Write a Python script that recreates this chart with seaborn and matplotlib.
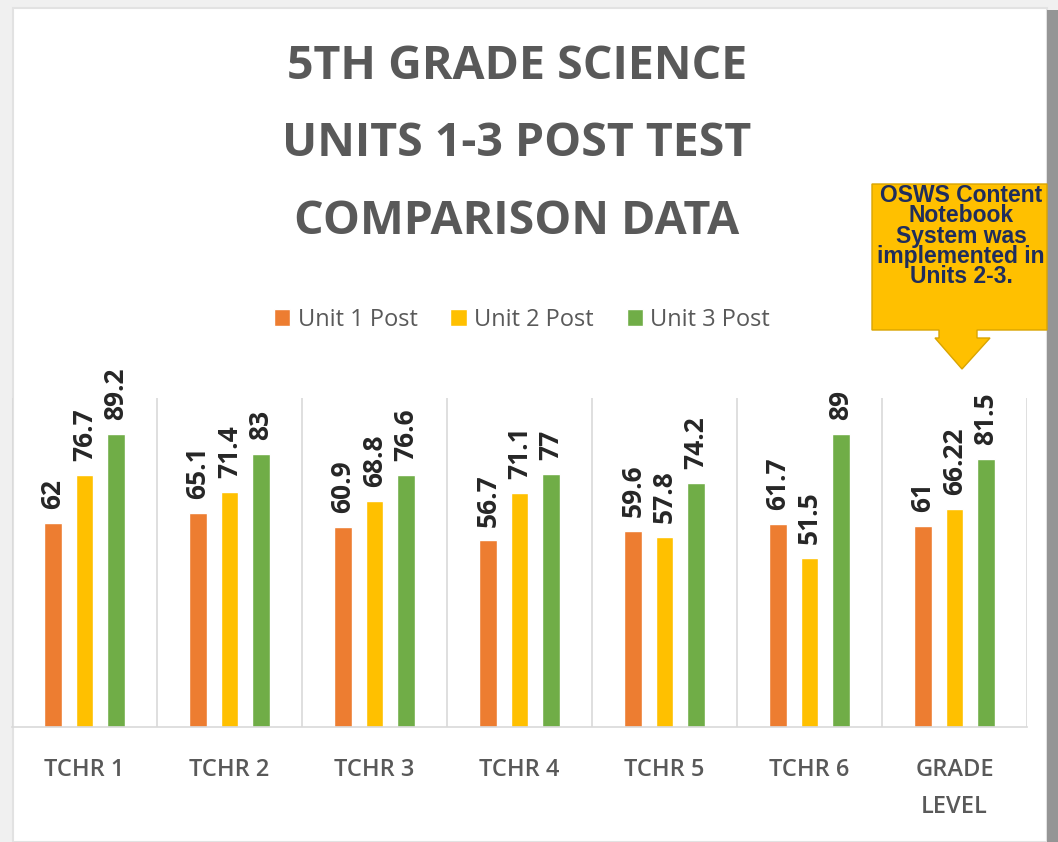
import pandas as pd
import matplotlib.pyplot as plt
import seaborn as sns
from matplotlib.patches import Rectangle, Polygon

# Chart values
teachers = ["TCHR 1", "TCHR 2", "TCHR 3", "TCHR 4", "TCHR 5", "TCHR 6", "GRADE\nLEVEL"]
unit1 = [62, 65.1, 60.9, 56.7, 59.6, 61.7, 61]
unit2 = [76.7, 71.4, 68.8, 71.1, 57.8, 51.5, 66.22]
unit3 = [89.2, 83, 76.6, 77, 74.2, 89, 81.5]
series_names = ["Unit 1 Post", "Unit 2 Post", "Unit 3 Post"]
colors = ["#ED7D31", "#FFC000", "#70AD47"]

df = pd.DataFrame({
    "teacher": teachers * 3,
    "series": [s for s in series_names for _ in teachers],
    "score": unit1 + unit2 + unit3,
})

W, H = 1058, 842
sns.set_theme(style="white")
plt.rcParams["font.family"] = ["Open Sans", "DejaVu Sans"]

fig = plt.figure(figsize=(W / 100, H / 100), dpi=100)
fig.patch.set_facecolor("#F0F0F0")


def fx(x):
    return x / W


def fy(y):
    return 1 - y / H


# page frame / shadow
fig.add_artist(Rectangle((fx(13), 0), fx(1047) - fx(13), fy(8), transform=fig.transFigure,
                         facecolor="white", edgecolor="#E2E2E2", lw=1.5, zorder=0))
fig.add_artist(Rectangle((fx(1047), 0), fx(W) - fx(1047), fy(10), transform=fig.transFigure,
                         facecolor="#959595", edgecolor="none", zorder=0))

ax = fig.add_axes([fx(12), fy(727), fx(1027) - fx(12), fy(398) - fy(727)])
ax.set_facecolor("none")

sns.barplot(data=df, x="teacher", y="score", hue="series", palette=colors,
            width=0.65, gap=0.45, ax=ax, legend=True, saturation=1)

for c in ax.containers:
    ax.bar_label(c, fmt="%g", rotation=90, padding=10, fontsize=19,
                 fontweight="bold", color="#262626")

ax.set_xlim(-0.5, len(teachers) - 0.5)
ax.set_ylim(0, 100)
ax.set_yticks([])
ax.set_xlabel("")
ax.set_ylabel("")
for b in range(len(teachers) + 1):
    ax.axvline(b - 0.5, color="#D9D9D9", lw=1.2, zorder=0)
for s in ["top", "left", "right"]:
    ax.spines[s].set_visible(False)
ax.spines["bottom"].set_color("#D9D9D9")
ax.spines["bottom"].set_linewidth(1.2)
ax.tick_params(axis="x", length=0, pad=22)
for lab in ax.get_xticklabels():
    lab.set_fontsize(17)
    lab.set_fontweight("semibold")
    lab.set_color("#595959")
    lab.set_linespacing(1.75)
    lab.set_verticalalignment("top")

# legend
handles, labels = ax.get_legend_handles_labels()
ax.legend_.remove()
fig.legend(handles, labels, loc="center", bbox_to_anchor=(fx(522), fy(320)), ncol=3,
           frameon=False, fontsize=17, handlelength=0.7, handleheight=0.7,
           handletextpad=0.3, columnspacing=1.4, labelcolor="#595959")

# title
fig.text(fx(517), fy(144), "5TH GRADE SCIENCE\nUNITS 1-3 POST TEST\nCOMPARISON DATA",
         ha="center", va="center", fontsize=33.5, fontweight="bold", color="#595959",
         linespacing=1.86)

# callout
callout = [(872, 184), (1047, 184), (1047, 330), (977, 330), (977, 338), (990, 338),
           (962, 369), (935, 338), (939, 338), (939, 330), (872, 330)]
fig.add_artist(Polygon([(fx(x), fy(y)) for x, y in callout], closed=True,
                       transform=fig.transFigure, facecolor="#FFC000",
                       edgecolor="#D9A400", lw=1, zorder=3))
fig.text(fx(961), fy(236), "OSWS Content\nNotebook\nSystem was\nimplemented in\nUnits 2-3.",
         ha="center", va="center", fontsize=16.5, fontweight="bold", color="#1F2D5C",
         family=["Liberation Sans", "DejaVu Sans"], linespacing=0.84, zorder=4)

fig.savefig("out.png", dpi=100, facecolor=fig.get_facecolor())
